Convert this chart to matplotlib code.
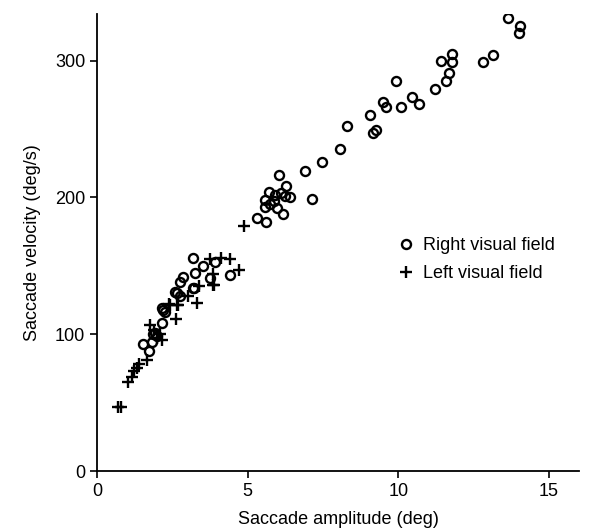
import matplotlib.pyplot as plt

# right visual field (open circles): amplitude (deg), velocity (deg/s)
right_amp = [13.64, 14.05, 14.0, 13.16, 12.82, 11.8, 11.42, 11.79, 11.7, 11.6,
             11.23, 10.47, 10.68, 10.09, 9.93, 9.6, 9.51, 9.07, 9.15, 9.25,
             8.29, 8.05, 7.48, 6.92, 7.13, 6.04, 6.27, 6.41, 6.16, 5.72,
             5.61, 5.31, 5.58, 5.75, 5.58, 5.88, 5.97, 6.11, 6.25, 5.91,
             3.2, 3.92, 4.42, 3.53, 2.87, 3.26, 2.76, 3.75, 3.2, 2.59,
             2.76, 2.67, 2.15, 2.2, 2.25, 2.15, 1.93, 1.87, 2.0, 1.82,
             1.74, 1.52, 3.22]
right_vel = [331, 325, 320, 304, 299, 305, 300, 299, 291, 285,
             279, 273, 268, 266, 285, 266, 270, 260, 247, 249,
             252, 235, 226, 219, 199, 216, 208, 200, 188, 204,
             182, 185, 198, 195, 193, 197, 192, 203, 201, 202,
             156, 153, 143, 150, 142, 145, 138, 141, 134, 131,
             128, 130, 119, 118, 116, 108, 101, 100, 99, 94,
             88, 93, 134]

# left visual field (crosses)
left_amp = [0.7, 0.8, 1.04, 1.15, 1.23, 1.32, 1.41, 1.65, 1.76, 2.15,
            2.4, 2.62, 1.9, 2.0, 2.1, 2.67, 3.33, 3.37, 3.84, 3.84,
            3.03, 3.75, 4.12, 4.4, 4.72, 4.88, 3.89, 2.43, 2.7]
left_vel = [47, 47, 65, 69, 73, 75, 78, 81, 107, 96,
            122, 111, 103, 97, 100, 121, 123, 135, 136, 144,
            128, 155, 156, 155, 147, 179, 136, 121, 121]

plt.rcParams['font.family'] = ['Liberation Sans', 'DejaVu Sans']

fig = plt.figure(figsize=(6.04, 5.30), dpi=100)
ax = fig.add_axes([0.1606, 0.1113, 0.798, 0.8623])

ax.plot(right_amp, right_vel, 'o', markersize=6.5, markerfacecolor='none',
        markeredgecolor='black', markeredgewidth=1.7, linestyle='none',
        label='Right visual field')
ax.plot(left_amp, left_vel, '+', markersize=8, markeredgecolor='black',
        markeredgewidth=1.7, linestyle='none', label='Left visual field')

ax.set_xlim(0, 16)
ax.set_ylim(0, 334)
ax.set_xticks([0, 5, 10, 15])
ax.set_yticks([0, 100, 200, 300])
ax.spines['top'].set_visible(False)
ax.spines['right'].set_visible(False)
ax.spines['left'].set_linewidth(1.3)
ax.spines['bottom'].set_linewidth(1.3)
ax.tick_params(direction='out', length=5, width=1.2, labelsize=13)

ax.set_xlabel('Saccade amplitude (deg)', fontsize=13, labelpad=8)
ax.set_ylabel('Saccade velocity (deg/s)', fontsize=13, labelpad=10)

ax.legend(loc='center left', bbox_to_anchor=(0.608, 0.462), frameon=False,
          fontsize=13, handlelength=0.8, handletextpad=0.5,
          labelspacing=0.6, borderpad=0)

fig.savefig('out.png', dpi=100)
